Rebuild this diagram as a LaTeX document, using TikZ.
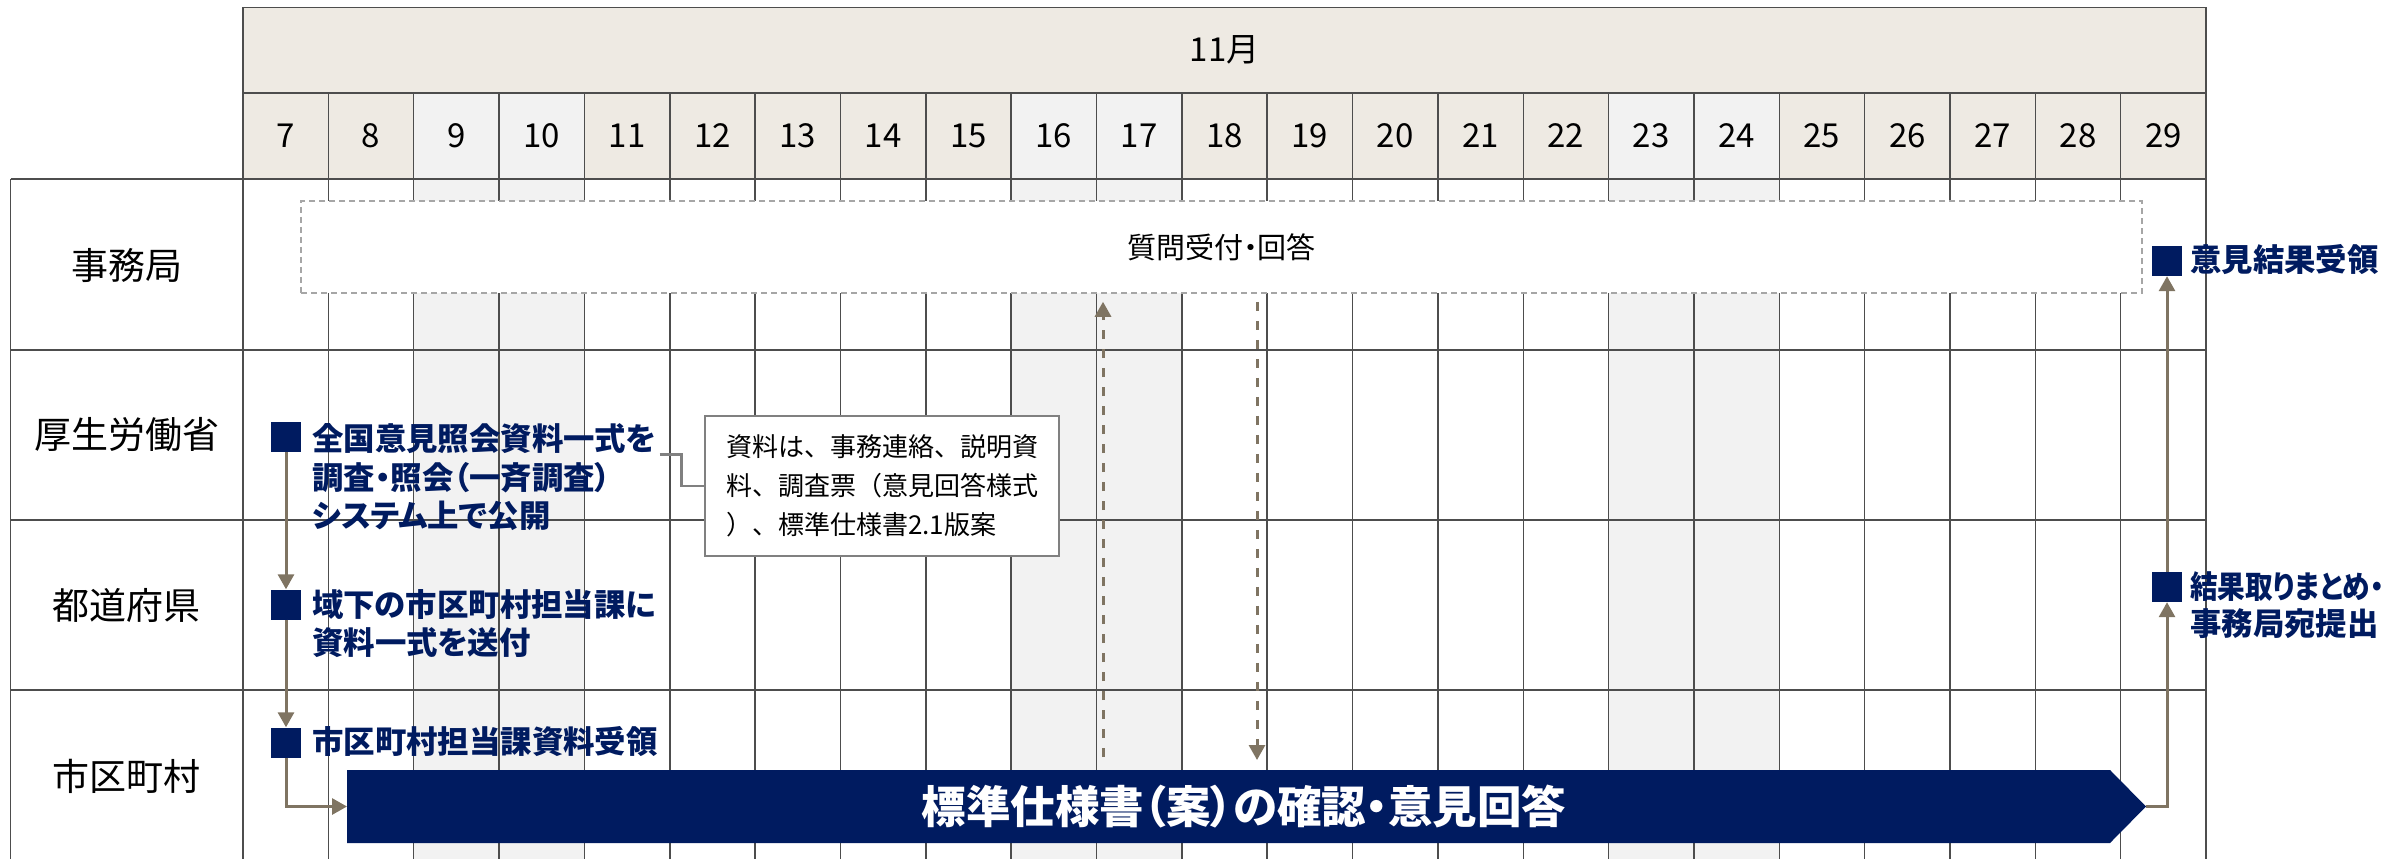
\documentclass[tikz,border=0pt]{standalone}
\usepackage{fontspec}
\setmainfont{Noto Sans CJK JP}
\newfontfamily\itemfont[RawFeature=+palt]{Noto Sans CJK JP}
\newfontfamily\narrowitemfont[RawFeature=+palt, FakeStretch=0.88]{Noto Sans CJK JP}
\usetikzlibrary{arrows.meta}
\definecolor{navyc}{HTML}{001B60}
\definecolor{beigec}{HTML}{EEEAE3}
\definecolor{shadec}{HTML}{F2F2F2}
\definecolor{gridc}{HTML}{4D4D4D}
\definecolor{brownc}{HTML}{7F7462}
\definecolor{callc}{HTML}{808080}
\definecolor{dashc}{HTML}{A6A6A6}
\begin{document}
\begin{tikzpicture}[x=1pt,y=-1pt,
  gridline/.style={draw=gridc, line width=1.5pt},
  lbl/.style={font=\fontsize{37}{44}\selectfont, inner sep=0pt},
  daynum/.style={font=\fontsize{33}{40}\selectfont, inner sep=0pt},
  item/.style={font=\itemfont\bfseries\fontsize{31.4}{38}\selectfont, text=navyc, anchor=west, inner sep=0pt},
  narrowitem/.style={item, font=\narrowitemfont\bfseries\fontsize{31.4}{38}\selectfont},
  marker/.style={fill=navyc, minimum size=30pt, inner sep=0pt},
  flow/.style={draw=brownc, line width=3pt, -{Triangle[width=16pt,length=15pt]}},
  dflow/.style={flow, dash pattern=on 9.5pt off 9.5pt},
  calline/.style={draw=callc, line width=2.5pt},
  notebox/.style={draw=callc, line width=2.5pt, fill=white, minimum width=354pt, minimum height=140pt, align=left, font=\fontsize{26}{39}\selectfont, inner sep=0pt},
  qabox/.style={draw=dashc, dash pattern=on 6pt off 4pt, line width=1.5pt, fill=white, minimum width=1841pt, minimum height=92pt, font=\itemfont\fontsize{29}{34}\selectfont, inner sep=0pt},
  bigtext/.style={font=\itemfont\bfseries\fontsize{44.5}{50}\selectfont, text=white, inner sep=0pt}
]
\useasboundingbox (0,0) rectangle (2400,859);
% header backgrounds
\fill[beigec] (243,7.7) rectangle (2206,179);
\foreach \i in {2,3,9,10,16,17}
  \fill[shadec] ({243+85.35*\i},93) rectangle ({243+85.35*(\i+1)},859);
% grid
\draw[gridline] (243,7.7) rectangle (2206,93);
\foreach \i in {0,...,23}
  \draw[gridline] ({243+85.35*\i},93) -- ({243+85.35*\i},859);
\foreach \yy in {179,350,520,690}
  \draw[gridline] (10.7,\yy) -- (2206,\yy);
\draw[gridline] (10.7,179) -- (10.7,859);
% header text
\node[daynum] (month) at (1224.5,50) {11月};
\foreach \d [count=\i from 0] in {7,8,...,29}
  \node[daynum] (d\d) at ({243+85.35*\i+42.67},136) {\d};
% row labels
\node[lbl] (L1) at (126.5,265) {事務局};
\node[lbl] (L2) at (126.5,435) {厚生労働省};
\node[lbl] (L3) at (126.5,605) {都道府県};
\node[lbl] (L4) at (126.5,776) {市区町村};
% boxes
\node[qabox] (qa) at (1221.5,247) {質問受付・回答};
\node[notebox] (note) at (882,486) {資料は、事務連絡、説明資\\料、調査票（意見回答様式\\）、標準仕様書2.1版案};
% big arrow
\fill[navyc] (347,770) -- (2110,770) -- (2146,806.5) -- (2110,843) -- (347,843) -- cycle;
\coordinate (taskW) at (347,806.5);
\coordinate (taskE) at (2146,806.5);
\node[bigtext] (task) at (1244,806.5) {標準仕様書（案）の確認・意見回答};
% items
\node[marker] (m1) at (286,437) {};
\node[item] (t1a) at (312,439) {全国意見照会資料一式を};
\node[item] (t1b) at (312,477.5) {調査・照会（一斉調査）};
\node[item] (t1c) at (312,516) {システム上で公開};
\node[marker] (m2) at (286,604.5) {};
\node[item] (t2a) at (312,605) {域下の市区町村担当課に};
\node[item] (t2b) at (312,642.5) {資料一式を送付};
\node[marker] (m3) at (286,742.5) {};
\node[item] (t3) at (312,742) {市区町村担当課資料受領};
\node[marker] (m4) at (2167,261) {};
\node[item] (t4) at (2190,260) {意見結果受領};
\node[marker] (m5) at (2167,587) {};
\node[narrowitem] (t5a) at (2190,587) {結果取りまとめ・};
\node[item] (t5b) at (2190,624) {事務局宛提出};
% connectors
\draw[calline] ([xshift=3pt]t1a.south east) -- ++(22,0) |- (note.west);
\draw[flow] (m1.south) -- (m2.north);
\draw[flow] (m2.south) -- (m3.north);
\draw[flow] (m3.south) |- (taskW);
\draw[flow] (taskE) -| (m5.south);
\draw[flow] (m5.north) -- (m4.south);
\coordinate (upS) at (1103,757);
\coordinate (dnE) at (1257,760);
\draw[dflow, shorten >=8pt] (upS) -- (upS |- qa.south);
\draw[dflow, shorten <=8pt] (dnE |- qa.south) -- (dnE);
\end{tikzpicture}
\end{document}
